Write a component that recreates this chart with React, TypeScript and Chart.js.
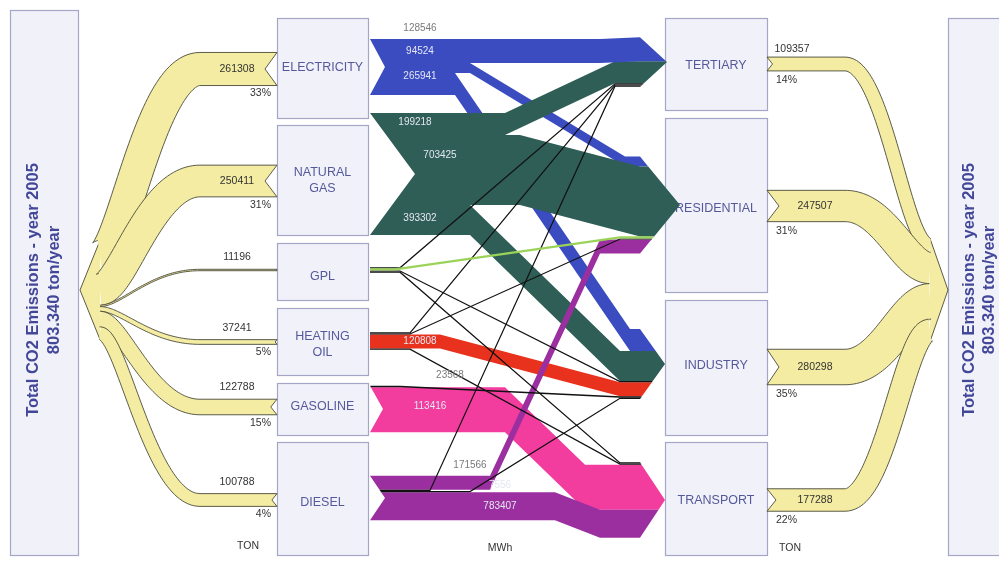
import React, { useEffect, useRef } from "react";
import { Chart, registerables } from "chart.js";

Chart.register(...registerables);

// ---------------- DATA ----------------
const sourceNames = ["ELECTRICITY", "NATURAL\nGAS", "GPL", "HEATING\nOIL", "GASOLINE", "DIESEL"];
const sourceTon = [261308, 250411, 11196, 37241, 122788, 100788];
const sourcePct = ["33%", "31%", "", "5%", "15%", "4%"];

const sectorNames = ["TERTIARY", "RESIDENTIAL", "INDUSTRY", "TRANSPORT"];
const sectorTon = [109357, 247507, 280298, 177288];
const sectorPct = ["14%", "31%", "35%", "22%"];

const totalTitle = "Total CO2 Emissions - year 2005";
const totalValue = "803.340 ton/year";
const unitLabels = ["TON", "MWh", "TON"];

// energy flows, source -> sector, MWh
const flowFrom = [0, 0, 0, 1, 1, 1, 2, 2, 2, 2, 3, 3, 3, 3, 4, 4, 5, 5, 5, 5];
const flowTo = [0, 1, 2, 0, 1, 2, 0, 1, 2, 3, 0, 1, 2, 3, 2, 3, 1, 0, 2, 3];
const flowMWh = [94524, 128546, 265941, 199218, 703425, 393302, 9000, 32000, 8000, 6000, 14000, 16000, 120808, 10000, 23568, 113416, 171566, 12000, 7556, 783407];
const flowShowValue = [1, 1, 1, 1, 1, 1, 0, 0, 0, 0, 0, 0, 1, 0, 1, 1, 1, 0, 1, 1];

// ---------------- LAYOUT / STYLE ----------------
const TON_PER_UNIT = 7900;
const SRC_X0 = 277, SRC_X1 = 368;
const SEC_X0 = 665, SEC_X1 = 767;
const srcBoxY = [[18, 118], [125, 235], [243, 300], [308, 375], [383, 435], [442, 555]];
const secBoxY = [[18, 110], [118, 292], [300, 435], [442, 555]];
const srcLabelY = [68, 181, 277, 345, 407, 503];
const secLabelY = [66, 209, 366, 501];
const srcMidY = [69, 181, 270, 342, 407, 500];
const secMidY = [64, 206, 367, 500];
const srcFlowMidY = [67, 174, 270, 341, 409, 498];
const secFlowMidY = [62, 205, 364, 500];
const srcNotch = [15, 45, 0, 0, 13, 15];
const secTipX = [667, 680, 665, 665];
const FLOW_X0 = 370, FLOW_X1 = 640;
const flowThick = [24, 10, 22, 22, 70, 30, 1.2, 2, 1.2, 1.2, 1.2, 1.2, 14, 1.2, 1.5, 45, 14, 1.2, 1.2, 28];
const flowBendA = [600, 470, 455, 505, 520, 470, 400, 395, 400, 400, 410, 410, 440, 410, 400, 505, 490, 430, 470, 555];
const flowBendB = [640, 625, 630, 615, 640, 620, 615, 620, 620, 620, 615, 620, 620, 620, 620, 585, 600, 615, 620, 600];
const flowLabelX = [420, 420, 420, 415, 440, 420, 0, 0, 0, 0, 0, 0, 420, 0, 450, 430, 470, 0, 500, 500];
const flowLabelDy = [0, 0, -8, -2, -15, -2, 0, 0, 0, 0, 0, 0, 0, 0, 0, -4, 0, 0, -6, 0];
const flowLabelAbove = [0, 1, 0, 0, 0, 0, 0, 0, 0, 0, 0, 0, 0, 0, 1, 0, 1, 0, 0, 0];
const bandOrder = [2, 1, 5, 3, 4, 0, 12, 15, 19, 16];
const lineOrder = [6, 8, 9, 10, 11, 13, 14, 17, 18, 7];
const srcColors = ["#3a4cc0", "#2e5e56", "#1a1a1a", "#e9321d", "#f23d9f", "#9b2f9f"];
const GPL_RES_COLOR = "#9bd35a";
const YELLOW = "#f3eca2";
const YELLOW_EDGE = "#4a4a3a";
const BOX_FILL = "#f1f2f9";
const BOX_EDGE = "#a3a6c6";
const BOX_TEXT = "#55589a";
const TITLE = "#434799";
const FONT = "'Liberation Sans', Arial, sans-serif";

type Pt = [number, number];

function bez(p0: Pt, p1: Pt, p2: Pt, p3: Pt, n: number): Pt[] {
  const out: Pt[] = [];
  for (let i = 0; i <= n; i++) {
    const t = i / n, u = 1 - t;
    out.push([
      u * u * u * p0[0] + 3 * u * u * t * p1[0] + 3 * u * t * t * p2[0] + t * t * t * p3[0],
      u * u * u * p0[1] + 3 * u * u * t * p1[1] + 3 * u * t * t * p2[1] + t * t * t * p3[1],
    ]);
  }
  return out;
}

function offsets(pts: Pt[], w: number) {
  const top: Pt[] = [], bot: Pt[] = [];
  for (let i = 0; i < pts.length; i++) {
    const a = pts[Math.max(0, i - 1)], b = pts[Math.min(pts.length - 1, i + 1)];
    const dx = b[0] - a[0], dy = b[1] - a[1];
    const len = Math.hypot(dx, dy) || 1;
    const nx = -dy / len, ny = dx / len;
    top.push([pts[i][0] - (nx * w) / 2, pts[i][1] - (ny * w) / 2]);
    bot.push([pts[i][0] + (nx * w) / 2, pts[i][1] + (ny * w) / 2]);
  }
  return { top, bot };
}

const sankeyPlugin = {
  id: "sankeyDraw",
  afterDatasetsDraw(chart: any) {
    const ctx: CanvasRenderingContext2D = chart.ctx;
    const sx = chart.scales.x, sy = chart.scales.y;
    const X = (v: number) => sx.getPixelForValue(v);
    const Y = (v: number) => sy.getPixelForValue(v);
    const poly = (pts: Pt[], close = true) => {
      ctx.beginPath();
      pts.forEach((p, i) => (i ? ctx.lineTo(X(p[0]), Y(p[1])) : ctx.moveTo(X(p[0]), Y(p[1]))));
      if (close) ctx.closePath();
    };
    const text = (s: string, x: number, y: number, font: string, color: string, align: CanvasTextAlign = "center") => {
      ctx.font = font;
      ctx.fillStyle = color;
      ctx.textAlign = align;
      ctx.textBaseline = "middle";
      ctx.fillText(s, X(x), Y(y));
    };
    const box = (x0: number, y0: number, x1: number, y1: number) => {
      ctx.fillStyle = BOX_FILL;
      ctx.fillRect(X(x0), Y(y0), X(x1) - X(x0), Y(y1) - Y(y0));
      ctx.strokeStyle = BOX_EDGE;
      ctx.lineWidth = 1.2;
      ctx.strokeRect(Math.round(X(x0)) + 0.5, Math.round(Y(y0)) + 0.5, X(x1) - X(x0), Y(y1) - Y(y0));
    };

    ctx.save();
    box(10, 10, 78, 555);
    box(948, 18, 1010, 555);
    const rotText = (cx: number, cy: number, s: string) => {
      ctx.save();
      ctx.translate(X(cx), Y(cy));
      ctx.rotate(-Math.PI / 2);
      ctx.font = `bold 16.5px ${FONT}`;
      ctx.fillStyle = TITLE;
      ctx.textAlign = "center";
      ctx.textBaseline = "middle";
      ctx.fillText(s, 0, 0);
      ctx.restore();
    };
    rotText(33, 290, totalTitle);
    rotText(54, 290, totalValue);
    rotText(969, 290, totalTitle);
    rotText(989, 290, totalValue);

    srcBoxY.forEach((b, i) => {
      box(SRC_X0, b[0], SRC_X1, b[1]);
      const lines = sourceNames[i].split("\n");
      lines.forEach((l, k) => text(l, (SRC_X0 + SRC_X1) / 2, srcLabelY[i] + (k - (lines.length - 1) / 2) * 16, `12.5px ${FONT}`, BOX_TEXT));
    });
    secBoxY.forEach((b, i) => {
      box(SEC_X0, b[0], SEC_X1, b[1]);
      text(sectorNames[i], (SEC_X0 + SEC_X1) / 2, secLabelY[i], `12.5px ${FONT}`, BOX_TEXT);
    });

    // ---- yellow (TON) flows ----
    const drawYellowFan = (vals: number[], mids: number[], side: "L" | "R") => {
      const th = vals.map((v) => v / TON_PER_UNIT);
      const total = th.reduce((a, b) => a + b, 0);
      const stackX = side === "L" ? 100 : 930;
      const tipX = side === "L" ? 80 : 948;
      const fanMid = 290;
      let yk = fanMid - total / 2;
      const stackTop = yk;
      const bands: { top: Pt[]; bot: Pt[]; notch: Pt }[] = [];
      th.forEach((t, i) => {
        const yK = yk + t / 2;
        yk += t;
        const yB = mids[i];
        let center: Pt[];
        let notch: Pt;
        const d = Math.min(12, t * 0.4);
        if (side === "L") {
          center = bez([stackX, yK], [122, yK], [150, yB], [200, yB], 60);
          center.push([SRC_X0, yB]);
          notch = [SRC_X0 - d, yB];
        } else {
          center = [[SEC_X1, yB] as Pt].concat(bez([845, yB], [885, yB], [905, yK], [stackX, yK], 60));
          notch = [SEC_X1 + d, yB];
        }
        const o = offsets(center, Math.max(t, 1));
        bands.push({ top: o.top, bot: o.bot, notch });
      });
      const stackBot = yk;
      ctx.fillStyle = YELLOW;
      poly([[stackX, stackTop], [tipX, fanMid], [stackX, stackBot]]);
      ctx.fill();
      ctx.strokeStyle = YELLOW_EDGE;
      ctx.lineWidth = 0.9;
      poly([[stackX, stackTop], [tipX, fanMid], [stackX, stackBot]], false);
      ctx.stroke();
      bands.forEach((b) => {
        const outline: Pt[] =
          side === "L"
            ? [...b.top, b.notch, ...b.bot.slice().reverse()]
            : [...b.top, ...b.bot.slice().reverse(), b.notch];
        ctx.fillStyle = YELLOW;
        poly(outline);
        ctx.fill();
        ctx.strokeStyle = YELLOW_EDGE;
        ctx.lineWidth = 0.9;
        poly(b.top, false);
        ctx.stroke();
        poly(b.bot, false);
        ctx.stroke();
        poly(side === "L" ? [b.top[b.top.length - 1], b.notch, b.bot[b.bot.length - 1]] : [b.top[0], b.notch, b.bot[0]], false);
        ctx.stroke();
      });
      return th;
    };
    const thL = drawYellowFan(sourceTon, srcMidY, "L");
    const thR = drawYellowFan(sectorTon, secMidY, "R");

    const numFont = `10.5px ${FONT}`;
    sourceTon.forEach((v, i) => {
      const t = thL[i], y = srcMidY[i];
      if (t > 25) text(String(v), 237, y, numFont, "#333");
      else text(String(v), 237, y - t / 2 - 12, numFont, "#333");
      if (sourcePct[i]) text(sourcePct[i], 271, y + t / 2 + 8, numFont, "#333", "right");
    });
    sectorTon.forEach((v, i) => {
      const t = thR[i], y = secMidY[i];
      if (t > 20) text(String(v), 815, y, numFont, "#333");
      else text(String(v), 792, y - t / 2 - 8, numFont, "#333");
      text(sectorPct[i], 776, y + t / 2 + 9, numFont, "#333", "left");
    });

    // ---- middle (MWh) flows ----
    const n = flowMWh.length;
    const fs0 = new Array(n).fill(0), fs1 = new Array(n).fill(0);
    const ft0 = new Array(n).fill(0), ft1 = new Array(n).fill(0);
    const sTop: number[] = [], sBot: number[] = [], tTop: number[] = [], tBot: number[] = [];
    sourceNames.forEach((_, s) => {
      const idx = flowFrom.map((f, i) => (f === s ? i : -1)).filter((i) => i >= 0);
      const tot = idx.reduce((a, i) => a + flowThick[i], 0);
      let y = srcFlowMidY[s] - tot / 2;
      sTop[s] = y;
      idx.forEach((i) => { fs0[i] = y; y += flowThick[i]; fs1[i] = y; });
      sBot[s] = y;
    });
    sectorNames.forEach((_, t) => {
      const idx = flowTo.map((f, i) => (f === t ? i : -1)).filter((i) => i >= 0).sort((a, b) => flowFrom[a] - flowFrom[b]);
      const tot = idx.reduce((a, i) => a + flowThick[i], 0);
      let y = secFlowMidY[t] - tot / 2;
      tTop[t] = y;
      idx.forEach((i) => { ft0[i] = y; y += flowThick[i]; ft1[i] = y; });
      tBot[t] = y;
    });
    const xl = (s: number, y: number) => {
      const c = (sTop[s] + sBot[s]) / 2, h = (sBot[s] - sTop[s]) / 2 || 1;
      return FLOW_X0 + srcNotch[s] * Math.max(0, 1 - Math.abs(y - c) / h);
    };
    const xr = (t: number, y: number) => {
      const c = (tTop[t] + tBot[t]) / 2, h = (tBot[t] - tTop[t]) / 2 || 1;
      return FLOW_X1 + (secTipX[t] - FLOW_X1) * Math.max(0, 1 - Math.abs(y - c) / h);
    };
    bandOrder.forEach((i) => {
      const s = flowFrom[i], t = flowTo[i];
      const a = flowBendA[i], b = flowBendB[i];
      const pts: Pt[] = [[xl(s, fs0[i]), fs0[i]], [a, fs0[i]], [b, ft0[i]], [xr(t, ft0[i]), ft0[i]]];
      const ct = (tTop[t] + tBot[t]) / 2;
      if (ft0[i] < ct && ct < ft1[i]) pts.push([secTipX[t], ct]);
      pts.push([xr(t, ft1[i]), ft1[i]], [b, ft1[i]], [a, fs1[i]], [xl(s, fs1[i]), fs1[i]]);
      const cs = (sTop[s] + sBot[s]) / 2;
      if (fs0[i] < cs && cs < fs1[i]) pts.push([FLOW_X0 + srcNotch[s], cs]);
      ctx.fillStyle = srcColors[s];
      poly(pts);
      ctx.fill();
    });
    lineOrder.forEach((i) => {
      const s = flowFrom[i], t = flowTo[i];
      const ms = (fs0[i] + fs1[i]) / 2, mt = (ft0[i] + ft1[i]) / 2;
      const pts: Pt[] = [[xl(s, ms), ms], [flowBendA[i], ms], [flowBendB[i], mt], [xr(t, mt), mt]];
      ctx.strokeStyle = s === 2 && t === 1 ? GPL_RES_COLOR : "#111";
      ctx.lineWidth = s === 2 && t === 1 ? 2.2 : Math.max(1, flowThick[i]);
      poly(pts, false);
      ctx.stroke();
    });

    flowMWh.forEach((v, i) => {
      if (!flowShowValue[i]) return;
      const s = flowFrom[i];
      if (flowLabelAbove[i]) {
        text(String(v), flowLabelX[i], sTop[s] - 11, `10px ${FONT}`, "#7a7a7a");
      } else {
        text(String(v), flowLabelX[i], (fs0[i] + fs1[i]) / 2 + flowLabelDy[i], `10px ${FONT}`, "#e4e6f2");
      }
    });

    text(unitLabels[0], 248, 546, `10.5px ${FONT}`, "#333");
    text(unitLabels[1], 500, 548, `10.5px ${FONT}`, "#333");
    text(unitLabels[2], 790, 548, `10.5px ${FONT}`, "#333");
    ctx.restore();
  },
};

export default function App() {
  const ref = useRef<HTMLCanvasElement>(null);
  useEffect(() => {
    if (!ref.current) return;
    const chart = new Chart(ref.current, {
      type: "scatter",
      data: { datasets: [{ data: [], pointRadius: 0 }] },
      options: {
        responsive: false,
        animation: false,
        devicePixelRatio: 1,
        layout: { padding: 0 },
        plugins: { legend: { display: false }, tooltip: { enabled: false } },
        scales: {
          x: { type: "linear", min: 0, max: 999, display: false },
          y: { type: "linear", min: 0, max: 562, reverse: true, display: false },
        },
      },
      plugins: [sankeyPlugin],
    } as any);
    return () => chart.destroy();
  }, []);
  return (
    <div style={{ position: "fixed", left: 0, top: 0, width: 999, height: 562, background: "#fff" }}>
      <canvas ref={ref} width={999} height={562} style={{ display: "block", width: 999, height: 562 }} />
    </div>
  );
}
